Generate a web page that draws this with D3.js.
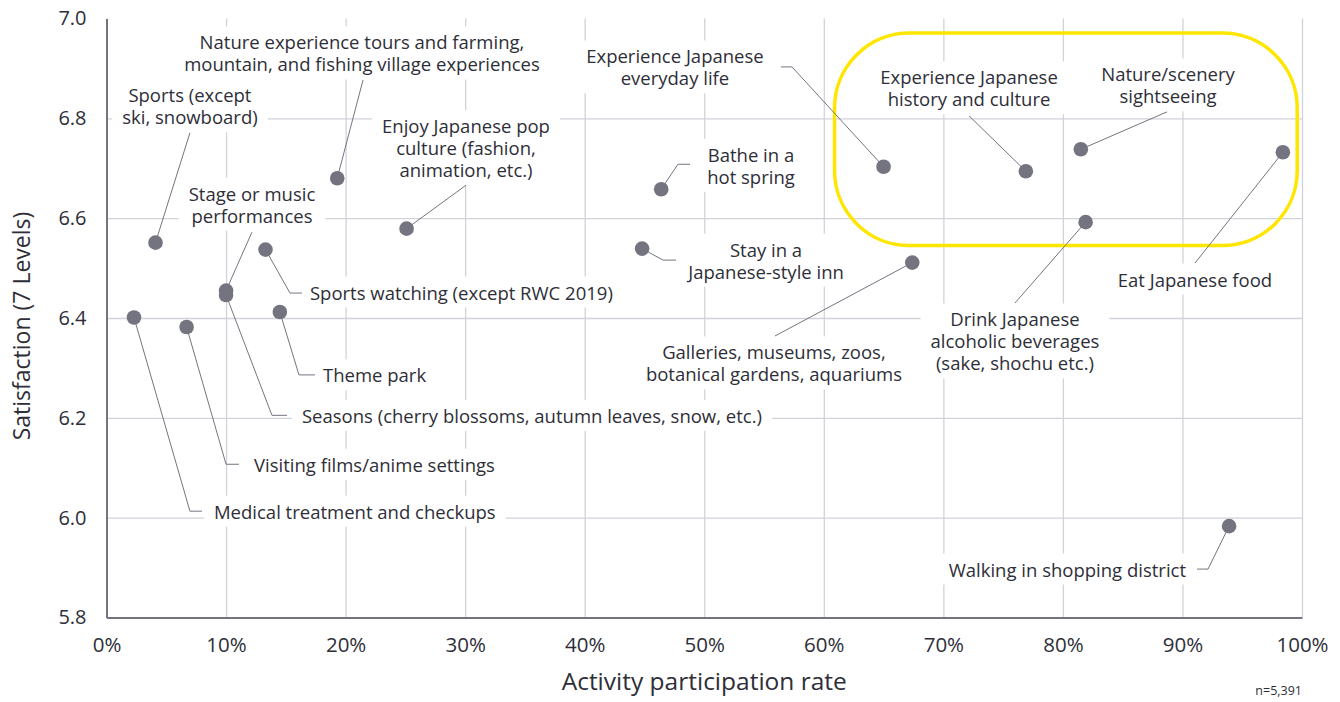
<!DOCTYPE html>
<html><head><meta charset="utf-8">
<script src="https://cdn.jsdelivr.net/npm/d3@7"></script>
<style>
body{margin:0;background:#fff}
svg{display:block}
text{font-family:"Open Sans",sans-serif}
</style>
</head><body>
<svg id="chart" width="1340" height="702"></svg>
<script>
// ---------------- DATA ----------------
const activities = [
  "Sports (except\nski, snowboard)",
  "Nature experience tours and farming,\nmountain, and fishing village experiences",
  "Enjoy Japanese pop\nculture (fashion,\nanimation, etc.)",
  "Stage or music\nperformances",
  "Seasons (cherry blossoms, autumn leaves, snow, etc.)",
  "Sports watching (except RWC 2019)",
  "Theme park",
  "Medical treatment and checkups",
  "Visiting films/anime settings",
  "Experience Japanese\neveryday life",
  "Experience Japanese\nhistory and culture",
  "Nature/scenery\nsightseeing",
  "Eat Japanese food",
  "Drink Japanese\nalcoholic beverages\n(sake, shochu etc.)",
  "Galleries, museums, zoos,\nbotanical gardens, aquariums",
  "Stay in a\nJapanese-style inn",
  "Bathe in a\nhot spring",
  "Walking in shopping district"
];
const participation = [4.1, 19.3, 25.1, 10.0, 10.0, 13.3, 14.5, 2.3, 6.7, 65.0, 76.9, 81.5, 98.4, 81.9, 67.4, 44.8, 46.4, 93.9];
const satisfaction  = [6.551, 6.680, 6.579, 6.455, 6.446, 6.537, 6.412, 6.401, 6.382, 6.703, 6.694, 6.738, 6.732, 6.592, 6.511, 6.539, 6.658, 5.983];
const xTicks = [0, 10, 20, 30, 40, 50, 60, 70, 80, 90, 100];
const yTicks = [5.8, 6.0, 6.2, 6.4, 6.6, 6.8, 7.0];
const xTitle = "Activity participation rate";
const yTitle = "Satisfaction (7 Levels)";
const note = "n=5,391";

// ---------------- ANNOTATION LAYOUT (data units) ----------------
// at: [x%, satisfaction] of label block (first line centre), anchor, path: leader waypoints from point to label
const labelLayout = [
  {at:[6.98, 6.845], anchor:"middle", path:[[6.98, 6.771]]},
  {at:[21.37, 6.951], anchor:"middle", path:[[21.46, 6.877]]},
  {at:[30.07, 6.783], anchor:"middle", path:[[30.07, 6.666]]},
  {at:[12.17, 6.648], anchor:"middle", path:[[12.17, 6.572]]},
  {at:[16.35, 6.203], anchor:"start", path:[[13.84, 6.205],[15.10, 6.205]]},
  {at:[17.02, 6.450], anchor:"start", path:[[15.35, 6.450],[16.35, 6.450]]},
  {at:[18.11, 6.284], anchor:"start", path:[[16.10, 6.286],[17.44, 6.286]]},
  {at:[8.99, 6.011], anchor:"start", path:[[6.98, 6.013],[7.99, 6.013]]},
  {at:[12.34, 6.105], anchor:"start", path:[[10.00, 6.107],[11.08, 6.107]]},
  {at:[47.55, 6.923], anchor:"middle", path:[[57.34, 6.903],[56.42, 6.903]]},
  {at:[72.15, 6.881], anchor:"middle", path:[[72.15, 6.805]]},
  {at:[88.79, 6.887], anchor:"middle", path:[[88.71, 6.813]]},
  {at:[91.05, 6.476], anchor:"middle", path:[[91.05, 6.510]]},
  {at:[75.99, 6.396], anchor:"middle", path:[[75.99, 6.430]]},
  {at:[55.83, 6.330], anchor:"middle", path:[[55.92, 6.364]]},
  {at:[55.17, 6.536], anchor:"middle", path:[[46.55, 6.516],[47.64, 6.516]]},
  {at:[53.91, 6.726], anchor:"middle", path:[[47.80, 6.708],[48.81, 6.708]]},
  {at:[90.30, 5.895], anchor:"end", path:[[92.14, 5.897],[91.22, 5.897]]}
];
// highlight region in data units: [x0, x1] %, [yTop, yBottom]
const highlight = {x:[60.9, 99.6], y:[6.971, 6.545]};

// ---------------- DRAW ----------------
const W = 1340, H = 702;
const margin = {left:106.5, right:W-1302, top:18.5, bottom:H-617.5};
const svg = d3.select("#chart");
const x = d3.scaleLinear().domain([0,100]).range([margin.left, W-margin.right]);
const y = d3.scaleLinear().domain([5.8,7.0]).range([H-margin.bottom, margin.top]);

const TEXT = "#2e2e38", GREY = "#747480", GRID = "#d2d2da";
const FONT = '"Open Sans",sans-serif';

// gridlines
const gx = svg.append("g")
  .attr("transform",`translate(0,${y(5.8)})`)
  .call(d3.axisBottom(x).tickValues(xTicks).tickSize(-(y(5.8)-y(7.0))).tickFormat(""));
gx.select(".domain").remove();
gx.selectAll("line").attr("stroke",GRID).attr("stroke-width",1.3);
const gy = svg.append("g")
  .attr("transform",`translate(${x(0)},0)`)
  .call(d3.axisLeft(y).tickValues(yTicks.filter(v=>v<7)).tickSize(-(x(100)-x(0))).tickFormat(""));
gy.select(".domain").remove();
gy.selectAll("line").attr("stroke",GRID).attr("stroke-width",1.3);

const hx0 = x(highlight.x[0]), hx1 = x(highlight.x[1]), hy0 = y(highlight.y[0]), hy1 = y(highlight.y[1]);

const boxes = svg.append("g");
const hl = svg.append("g");
const leaders = svg.append("g");
const dots = svg.append("g");
const labels = svg.append("g");

const lh = 22;
activities.forEach((name, i) => {
  const L = labelLayout[i];
  const parts = name.split("\n");
  const t = labels.append("text")
    .attr("text-anchor", L.anchor)
    .attr("fill", TEXT)
    .attr("font-size", 18.5)
    .attr("x", x(L.at[0]))
    .attr("y", y(L.at[1]));
  parts.forEach((p, k) => {
    t.append("tspan").attr("x", x(L.at[0])).attr("y", y(L.at[1]) + k*lh).attr("dy","0.35em").text(p);
  });
  const bb = t.node().getBBox();
  boxes.append("rect")
    .attr("x", bb.x-10).attr("y", bb.y-3)
    .attr("width", bb.width+20).attr("height", bb.height+6)
    .attr("fill","#fff");
  const pts = [[participation[i], satisfaction[i]], ...L.path].map(d => [x(d[0]), y(d[1])]);
  leaders.append("path")
    .attr("d", d3.line()(pts))
    .attr("fill","none").attr("stroke",GREY).attr("stroke-width",1);
});

hl.append("rect")
  .attr("x", hx0).attr("y", hy0)
  .attr("width", hx1-hx0).attr("height", hy1-hy0)
  .attr("rx", 75).attr("ry", 75)
  .attr("fill","none").attr("stroke","#ffe600").attr("stroke-width",3.5);

dots.selectAll("circle").data(activities).join("circle")
  .attr("cx", (d,i) => x(participation[i]))
  .attr("cy", (d,i) => y(satisfaction[i]))
  .attr("r", 7.3)
  .attr("fill", GREY);

// axes
const ax = svg.append("g")
  .attr("transform",`translate(0,${y(5.8)})`)
  .call(d3.axisBottom(x).tickValues(xTicks).tickSize(0).tickPadding(20).tickFormat(d => d + "%"));
ax.select(".domain").attr("stroke",GREY).attr("stroke-width",2);
ax.selectAll("text").attr("fill",TEXT).attr("font-size",20.5).attr("font-family",FONT);

const ay = svg.append("g")
  .attr("transform",`translate(${x(0)},0)`)
  .call(d3.axisLeft(y).tickValues(yTicks).tickSize(0).tickPadding(20).tickFormat(d3.format(".1f")));
ay.select(".domain").attr("stroke",GREY).attr("stroke-width",2);
ay.selectAll("text").attr("fill",TEXT).attr("font-size",20).attr("font-family",FONT);

svg.append("text")
  .attr("x", x(50)).attr("y", 681).attr("dy","0.35em")
  .attr("text-anchor","middle").attr("fill",TEXT).attr("font-size",24.5)
  .text(xTitle);

svg.append("text")
  .attr("transform",`translate(22,326) rotate(-90)`)
  .attr("dy","0.35em")
  .attr("text-anchor","middle").attr("fill",TEXT).attr("font-size",23)
  .text(yTitle);

svg.append("text")
  .attr("x", x(100)).attr("y", 691).attr("dy","0.35em")
  .attr("text-anchor","end").attr("fill",TEXT).attr("font-size",12.5)
  .text(note);
</script>
</body></html>
